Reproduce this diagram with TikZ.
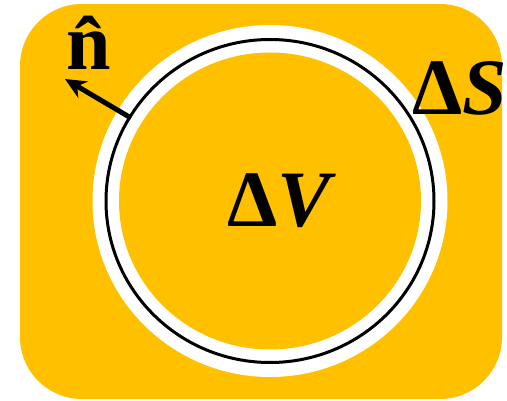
\documentclass[tikz,border=0pt]{standalone}
\usepackage{fontspec}
\setmainfont{Liberation Serif}
\usetikzlibrary{arrows.meta}
\definecolor{gold}{HTML}{FFC000}
\tikzset{
  biglabel/.style={font=\fontsize{80}{80}\selectfont\bfseries, inner sep=0pt, anchor=base},
  normalarrow/.style={line width=5pt, -{Stealth[length=21pt,width=19pt]}}
}
\begin{document}
\begin{tikzpicture}[x=1pt,y=-1pt]
\useasboundingbox (0,0) rectangle (507,401);
\fill[gold, rounded corners=62pt] (20,4) rectangle (502,399);
\fill[white] (270,201) ellipse [x radius=177.5, y radius=176];
\draw[black, line width=3pt] (270,201) ellipse [x radius=164, y radius=161.5];
\fill[gold] (270,201) ellipse [x radius=151, y radius=148.5];
\coordinate (tail) at (131,118);
\coordinate (tip) at (65,79);
\draw[normalarrow] (tail) -- (tip);
\node[biglabel] (n) at (88.5,70) {\^{n}};
\node[biglabel] (dS) at (460,115) {Δ\textit{S}};
\node[biglabel] (dV) at (282,227) {Δ\textit{V}};
\end{tikzpicture}
\end{document}
